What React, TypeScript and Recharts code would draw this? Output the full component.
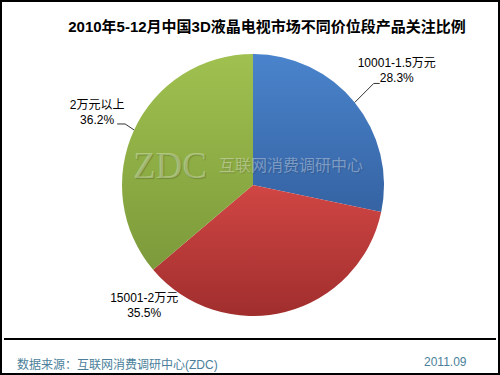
import { PieChart, Pie, Cell } from "recharts";

const segments = ["10001-1.5万元", "15001-2万元", "2万元以上"];
const shares = [28.3, 35.5, 36.2];

const sliceColors = [
  ["#4a84cc", "#3563a3"],
  ["#d04644", "#a02e2d"],
  ["#a0c150", "#7c9a3a"],
];

// text placement relative to the slice edge point (name line, value line)
const labelLayout = [
  { dx: 42, dy: -39, line: [[19, -19], [25, -19]] },
  { dx: -141, dy: -14, line: [] },
  { dx: -37, dy: -25, line: [[-9, -6], [-17, -6]] },
];

const data = segments.map((name, i) => ({ name, value: shares[i] }));

const RADIAN = Math.PI / 180;
const font = '"Liberation Sans", Arial, "Noto Sans CJK SC", sans-serif';

const renderLabel = (props: any) => {
  const { cx, cy, midAngle, outerRadius, index, value, name } = props;
  const ex = cx + outerRadius * Math.cos(-midAngle * RADIAN);
  const ey = cy + outerRadius * Math.sin(-midAngle * RADIAN);
  const lay = labelLayout[index];
  const pts = [[0, 0], ...lay.line];
  return (
    <g>
      {lay.line.length > 0 && (
        <polyline
          points={pts.map((p) => `${ex + p[0]},${ey + p[1]}`).join(" ")}
          fill="none"
          stroke="#333"
          strokeWidth={1}
        />
      )}
      <text
        x={ex + lay.dx}
        y={ey + lay.dy}
        textAnchor="middle"
        dominantBaseline="central"
        fontSize={12}
        fontFamily={font}
        fill="#000"
      >
        {name}
      </text>
      <text
        x={ex + lay.dx}
        y={ey + lay.dy + 15}
        textAnchor="middle"
        dominantBaseline="central"
        fontSize={12}
        fontFamily={font}
        fill="#000"
      >
        {`${value.toFixed(1)}%`}
      </text>
    </g>
  );
};

export default function App() {
  return (
    <div
      style={{
        position: "absolute",
        left: 0,
        top: 0,
        width: 500,
        height: 375,
        boxSizing: "border-box",
        border: "2px solid #000",
        background: "#fff",
        fontFamily: font,
      }}
    >
      <div
        style={{
          position: "absolute",
          left: 0,
          top: 13,
          width: 530,
          textAlign: "center",
          fontSize: 15,
          fontWeight: "bold",
          color: "#000",
          whiteSpace: "nowrap",
        }}
      >
        2010年5-12月中国3D液晶电视市场不同价位段产品关注比例
      </div>
      <div style={{ position: "absolute", left: -2, top: -2 }}>
        <PieChart width={500} height={375} margin={{ top: 0, right: 0, bottom: 0, left: 0 }}>
          <defs>
            {sliceColors.map((c, i) => (
              <linearGradient key={i} id={`sg${i}`} x1="0" y1="0" x2="0" y2="1">
                <stop offset="0%" stopColor={c[0]} />
                <stop offset="100%" stopColor={c[1]} />
              </linearGradient>
            ))}
          </defs>
          <Pie
            data={data}
            dataKey="value"
            nameKey="name"
            cx={253}
            cy={185}
            outerRadius={131}
            startAngle={90}
            endAngle={-270}
            stroke="none"
            label={renderLabel}
            labelLine={false}
            isAnimationActive={false}
          >
            {data.map((_, i) => (
              <Cell key={i} fill={`url(#sg${i})`} />
            ))}
          </Pie>
        </PieChart>
      </div>
      <div
        style={{
          position: "absolute",
          left: 131,
          top: 139,
          fontFamily: '"Liberation Serif", "Times New Roman", serif',
          fontSize: 37,
          color: "rgba(235,245,215,0.4)",
          textShadow: "1px 1px 1px rgba(0,0,0,0.18)",
          lineHeight: "50px",
        }}
      >
        ZDC
      </div>
      <div
        style={{
          position: "absolute",
          left: 217,
          top: 151,
          fontSize: 16,
          fontFamily: '"Noto Sans CJK SC", sans-serif',
          color: "rgba(255,255,255,0.35)",
          textShadow: "1px 1px 1px rgba(0,0,0,0.15)",
          lineHeight: "22px",
          whiteSpace: "nowrap",
        }}
      >
        互联网消费调研中心
      </div>
      <div
        style={{
          position: "absolute",
          left: 2,
          right: 2,
          top: 336,
          borderTop: "2px solid #000",
        }}
      />
      <div
        style={{
          position: "absolute",
          left: 15,
          top: 353,
          fontSize: 12,
          color: "#4b7f9b",
          whiteSpace: "nowrap",
        }}
      >
        数据来源：互联网消费调研中心(ZDC)
      </div>
      <div
        style={{
          position: "absolute",
          left: 422,
          top: 353,
          fontSize: 12,
          color: "#4b7f9b",
        }}
      >
        2011.09
      </div>
    </div>
  );
}
